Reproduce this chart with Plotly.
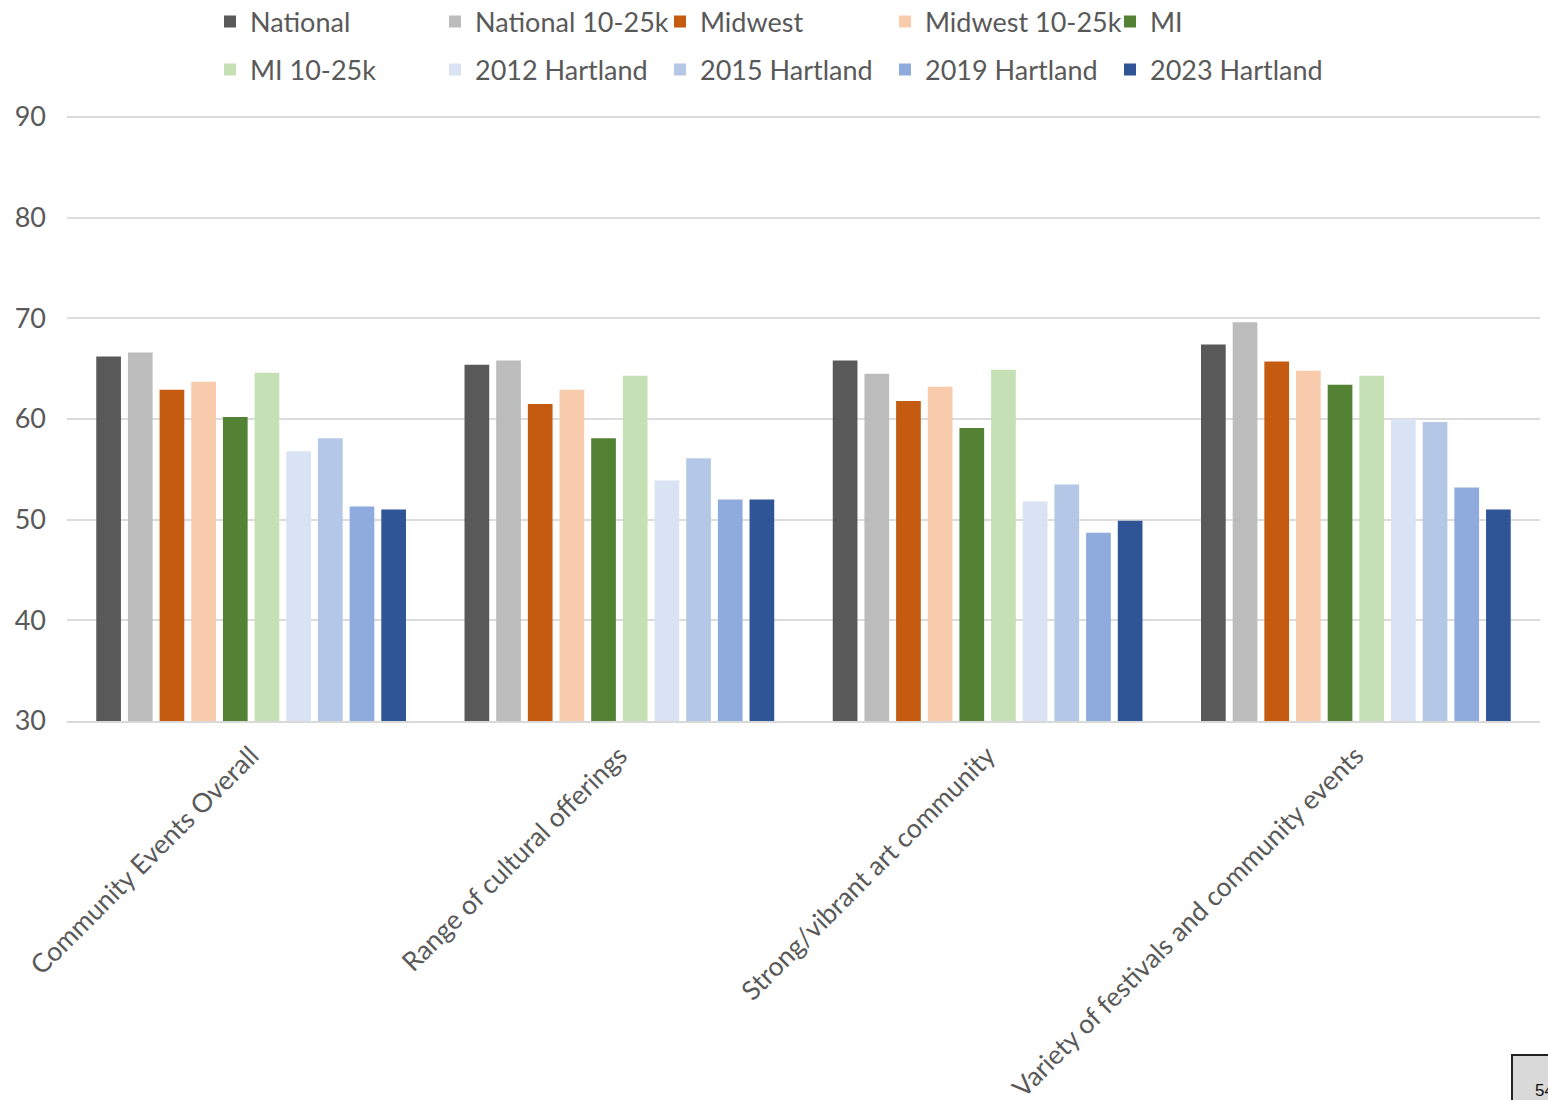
import plotly.graph_objects as go

# Survey scores by community-events topic
categories = [
    "Community Events Overall",
    "Range of cultural offerings",
    "Strong/vibrant art community",
    "Variety of festivals and community events",
]

series_names = [
    "National", "National 10-25k", "Midwest", "Midwest 10-25k", "MI",
    "MI 10-25k", "2012 Hartland", "2015 Hartland", "2019 Hartland", "2023 Hartland",
]

national = [66.2, 65.4, 65.8, 67.4]
national_10_25k = [66.6, 65.8, 64.5, 69.6]
midwest = [62.9, 61.5, 61.8, 65.7]
midwest_10_25k = [63.7, 62.9, 63.2, 64.8]
mi = [60.2, 58.1, 59.1, 63.4]
mi_10_25k = [64.6, 64.3, 64.9, 64.3]
hartland_2012 = [56.8, 53.9, 51.8, 60.0]
hartland_2015 = [58.1, 56.1, 53.5, 59.7]
hartland_2019 = [51.3, 52.0, 48.7, 53.2]
hartland_2023 = [51.0, 52.0, 49.9, 51.0]

series_values = [
    national, national_10_25k, midwest, midwest_10_25k, mi,
    mi_10_25k, hartland_2012, hartland_2015, hartland_2019, hartland_2023,
]

colors = [
    "#595959", "#bcbcbc", "#c55a11", "#f8cbad", "#548235",
    "#c5e0b4", "#dae3f3", "#b4c7e7", "#8faadc", "#2f5597",
]

y_ticks = [30, 40, 50, 60, 70, 80, 90]

W, H = 1548, 1100
L, R, T, B = 67, 8, 116, 379
PW, PH = W - L - R, H - T - B
FONT = "Lato, 'Open Sans', sans-serif"
TEXT = "#595959"


def px_x(px):
    return (px - L) / PW


def px_y(py):
    return (H - B - py) / PH


fig = go.Figure()
for i, (name, vals, col) in enumerate(zip(series_names, series_values, colors)):
    fig.add_trace(go.Bar(
        x=categories, y=vals, name=name,
        marker=dict(color=col, line=dict(width=0)),
        legend="legend" if i < 5 else "legend2",
    ))

legend_common = dict(
    orientation="h",
    xref="container", yref="container",
    xanchor="left", yanchor="middle",
    font=dict(family=FONT, size=27, color=TEXT),
    entrywidth=180, entrywidthmode="pixels",
    bgcolor="rgba(0,0,0,0)", borderwidth=0,
    traceorder="normal",
)

fig.update_layout(
    width=W, height=H,
    paper_bgcolor="white", plot_bgcolor="white",
    margin=dict(l=L, r=R, t=T, b=B, autoexpand=False),
    barmode="group", bargap=0.14, bargroupgap=0.22,
    font=dict(family=FONT, color=TEXT),
    legend=dict(**legend_common, x=210 / W, y=1 - 22 / H),
    legend2=dict(**legend_common, x=210 / W, y=1 - 70 / H),
    xaxis=dict(
        tickangle=-45, tickfont=dict(family=FONT, size=26.5, color=TEXT),
        showgrid=False, showline=True, linecolor="#d9d9d9", linewidth=1.5,
        ticks="", fixedrange=True, ticklabelstandoff=7, automargin=False,
    ),
    yaxis=dict(
        range=[30, 90.1], tickvals=y_ticks,
        tickfont=dict(family=FONT, size=27, color=TEXT),
        showgrid=True, gridcolor="#dcdcdc", gridwidth=1.5,
        zeroline=False, showline=False, ticks="", ticklabelstandoff=20,
        automargin=False,
    ),
)

# Page-number box in the lower right corner
fig.add_shape(
    type="rect", xref="paper", yref="paper",
    x0=px_x(1512), x1=px_x(1570),
    y0=px_y(1055), y1=px_y(1120),
    fillcolor="#d9d9d9", line=dict(color="#222222", width=2), layer="above",
)
fig.add_annotation(
    text="54", xref="paper", yref="paper",
    x=px_x(1533), y=px_y(1090),
    xanchor="left", yanchor="middle", showarrow=False,
    font=dict(family="Liberation Sans, Arial", size=17, color="#111111"),
)

fig.write_html("out.html")
